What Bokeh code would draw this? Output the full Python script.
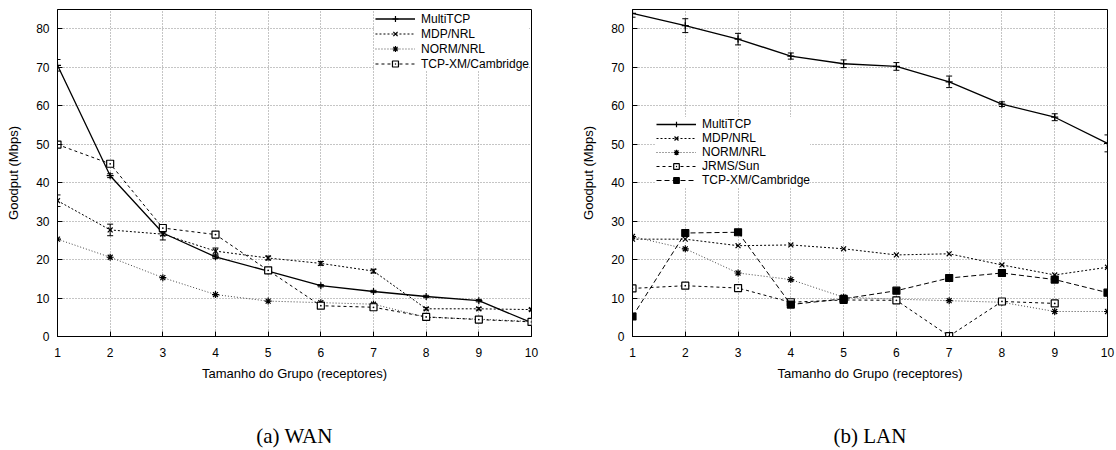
from bokeh.plotting import figure
from bokeh.models import (Range1d, FixedTicker, Legend, LinearAxis, Whisker,
                          ColumnDataSource, TeeHead)
from bokeh.layouts import row
from bokeh.embed import file_html
from bokeh.resources import INLINE

# ---------------- data ----------------
x_groups = [1, 2, 3, 4, 5, 6, 7, 8, 9, 10]
y_ticks = [0, 10, 20, 30, 40, 50, 60, 70, 80]

# (a) WAN
wan_multitcp = [70.5, 41.8, 26.9, 20.7, 17.0, 13.2, 11.7, 10.4, 9.3, 3.6]
wan_multitcp_err = [1.5, 0.5, 0.6, 0.4, 0.4, 0.3, 0.3, 0.3, 0.3, 0.4]
wan_mdp = [35.3, 27.7, 26.6, 22.2, 20.4, 19.0, 17.0, 7.2, 7.2, 7.0]
wan_mdp_err = [1.5, 1.5, 1.5, 0.8, 0.5, 0.5, 0.5, 0.3, 0.3, 0.3]
wan_norm = [25.3, 20.6, 15.3, 10.9, 9.2, 8.8, 8.4, 5.0, 4.5, 3.9]
wan_tcpxm = [49.9, 44.9, 28.2, 26.5, 17.2, 8.0, 7.6, 5.1, 4.4, 3.8]

# (b) LAN
lan_multitcp = [84.0, 80.8, 77.3, 72.9, 70.9, 70.2, 66.2, 60.4, 57.0, 50.2]
lan_multitcp_err = [1.0, 1.8, 1.5, 0.8, 1.0, 1.0, 1.5, 0.6, 0.9, 2.2]
lan_mdp = [25.3, 25.3, 23.6, 23.8, 22.8, 21.2, 21.5, 18.6, 16.0, 18.0]
lan_norm = [26.0, 22.8, 16.5, 14.8, 10.2, 9.7, 9.3, 8.9, 6.5, 6.5]
lan_jrms_x = [1, 2, 3, 4, 5, 6, 7, 8, 9]
lan_jrms = [12.5, 13.2, 12.6, 8.9, 9.5, 9.4, 0.1, 9.1, 8.6]
lan_tcpxm = [5.2, 26.9, 27.1, 8.3, 9.8, 11.9, 15.2, 16.5, 14.8, 11.4]

FONT = "Liberation Sans"


def base_fig(width, border_left, border_right, caption):
    p = figure(width=width, height=450, output_backend="svg", toolbar_location=None,
               x_range=Range1d(1, 10), y_range=Range1d(0, 85),
               min_border_left=border_left, min_border_right=border_right,
               min_border_top=9, min_border_bottom=114,
               background_fill_color="white", border_fill_color="white")
    p.outline_line_color = "black"
    p.outline_line_width = 1
    p.xaxis.ticker = FixedTicker(ticks=x_groups)
    p.yaxis.ticker = FixedTicker(ticks=y_ticks)
    for ax in (p.xaxis, p.yaxis):
        ax.major_tick_in = 5
        ax.major_tick_out = 0
        ax.minor_tick_line_color = None
        ax.axis_line_color = "black"
        ax.major_tick_line_color = "black"
        ax.major_label_text_font = FONT
        ax.major_label_text_font_size = "12px"
        ax.major_label_text_color = "black"
        ax.axis_label_text_font = FONT
        ax.axis_label_text_font_size = "13px"
        ax.axis_label_text_font_style = "normal"
        ax.axis_label_text_color = "black"
    p.xaxis.major_label_standoff = 11
    p.xaxis.axis_label_standoff = 6
    p.yaxis.major_label_standoff = 8
    p.yaxis.axis_label_standoff = 12
    p.xaxis.axis_label = "Tamanho do Grupo (receptores)"
    p.yaxis.axis_label = "Goodput (Mbps)"
    for g in (p.xgrid, p.ygrid):
        g.grid_line_color = "#8a8a8a"
        g.grid_line_dash = "1 2"
        g.grid_line_width = 1
    # sub-figure caption, drawn as the label of a bare extra axis below
    cap_axis = LinearAxis(axis_label=caption, ticker=FixedTicker(ticks=[]),
                          axis_line_color=None, major_tick_line_color=None,
                          minor_tick_line_color=None, major_label_text_font_size="0px",
                          major_label_standoff=0, axis_label_standoff=40,
                          axis_label_text_font="Liberation Serif",
                          axis_label_text_font_size="21px",
                          axis_label_text_font_style="normal",
                          axis_label_text_color="black")
    p.add_layout(cap_axis, "below")
    return p


def series(p, xs, ys, label, marker, dash, color="black", lw=1.0, fill="black", size=7):
    r1 = p.line(xs, ys, line_color=color, line_dash=dash, line_width=lw)
    r2 = p.scatter(xs, ys, marker=marker, size=size, line_color="black",
                   fill_color=fill, line_width=1.2)
    return (label, [r1, r2])


def errbars(p, xs, ys, err):
    src = ColumnDataSource(dict(x=xs, upper=[a + b for a, b in zip(ys, err)],
                                lower=[a - b for a, b in zip(ys, err)]))
    p.add_layout(Whisker(source=src, base="x", upper="upper", lower="lower",
                         line_color="black", line_width=1,
                         upper_head=TeeHead(size=6, line_color="black", line_width=1),
                         lower_head=TeeHead(size=6, line_color="black", line_width=1)))


def style_legend(items, location, row_h, margin, padding):
    lg = Legend(items=items, location=location)
    lg.label_text_font = FONT
    lg.label_text_font_size = "12px"
    lg.label_text_color = "black"
    lg.glyph_width = 40
    lg.glyph_height = row_h
    lg.label_height = row_h
    lg.spacing = 0
    lg.padding = padding
    lg.margin = margin
    lg.label_standoff = 6
    lg.border_line_color = None
    lg.background_fill_color = "white"
    lg.background_fill_alpha = 1.0
    return lg


# ---------------- (a) WAN ----------------
p1 = base_fig(560, 57, 29, "(a) WAN")
items1 = []
errbars(p1, x_groups, wan_multitcp, wan_multitcp_err)
errbars(p1, x_groups, wan_mdp, wan_mdp_err)
items1.append(series(p1, x_groups, wan_multitcp, "MultiTCP", "cross", "solid", lw=1.3, size=7))
items1.append(series(p1, x_groups, wan_mdp, "MDP/NRL", "x", "2 2", size=7))
items1.append(series(p1, x_groups, wan_norm, "NORM/NRL", "asterisk", "1 2", color="#444444", size=7))
items1.append(series(p1, x_groups, wan_tcpxm, "TCP-XM/Cambridge", "square_dot", "3 3", fill="white", size=7))
p1.add_layout(style_legend(items1, "top_right", 15, 2, 1))

# ---------------- (b) LAN ----------------
p2 = base_fig(556, 72, 9, "(b) LAN")
items2 = []
errbars(p2, x_groups, lan_multitcp, lan_multitcp_err)
items2.append(series(p2, x_groups, lan_multitcp, "MultiTCP", "cross", "solid", lw=1.3, size=7))
items2.append(series(p2, x_groups, lan_mdp, "MDP/NRL", "x", "2 2", size=7))
items2.append(series(p2, x_groups, lan_norm, "NORM/NRL", "asterisk", "1 2", color="#444444", size=7))
items2.append(series(p2, lan_jrms_x, lan_jrms, "JRMS/Sun", "square_dot", "3 3", fill="white", size=7))
items2.append(series(p2, x_groups, lan_tcpxm, "TCP-XM/Cambridge", "square", "5 3", size=7))
p2.add_layout(style_legend(items2, (24, 149), 14, 3, 3))

layout = row(p1, p2)
open("out.html", "w").write(file_html(layout, INLINE))
